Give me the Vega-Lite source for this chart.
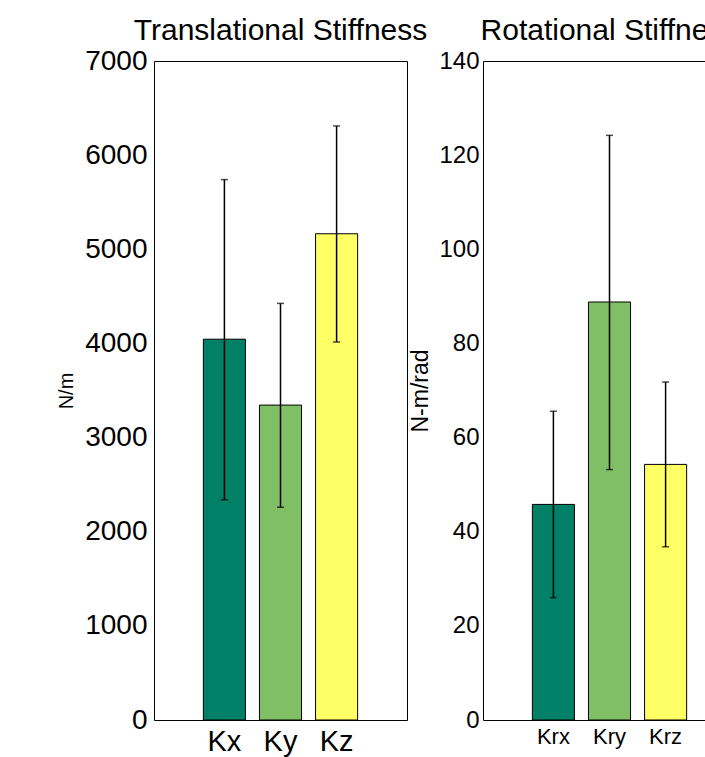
{
  "$schema": "https://vega.github.io/schema/vega-lite/v6.json",
  "background": "white",
  "padding": {"left": 56, "top": 15, "right": 0, "bottom": 0},
  "spacing": -19,
  "datasets": {
    "trans": [
      {"k": "Kx", "mean": 4045, "lo": 2340, "hi": 5740},
      {"k": "Ky", "mean": 3345, "lo": 2260, "hi": 4425},
      {"k": "Kz", "mean": 5165, "lo": 4015, "hi": 6310}
    ],
    "rot": [
      {"k": "Krx", "mean": 45.8, "lo": 26.0, "hi": 65.6},
      {"k": "Kry", "mean": 88.8, "lo": 53.2, "hi": 124.2},
      {"k": "Krz", "mean": 54.3, "lo": 36.8, "hi": 71.8}
    ]
  },
  "config": {
    "font": "Liberation Sans",
    "view": {"stroke": "black", "strokeWidth": 1},
    "axis": {"grid": false, "ticks": false, "domain": false, "labelColor": "black", "titleColor": "black", "labelFont": "Liberation Sans", "titleFont": "Liberation Sans", "titleFontWeight": "normal"},
    "title": {"font": "Liberation Sans", "fontWeight": "normal", "color": "black", "fontSize": 30}
  },
  "hconcat": [
    {
      "width": 253,
      "height": 659,
      "title": {"text": "Translational Stiffness", "offset": 1},
      "data": {"name": "trans"},
      "layer": [
        {
          "mark": {"type": "bar", "stroke": "black", "strokeWidth": 1, "opacity": 1},
          "encoding": {
            "x": {"field": "k", "type": "nominal", "sort": null, "scale": {"paddingInner": 0.25, "paddingOuter": 0.88}, "axis": {"title": null, "labelAngle": 0, "labelFontSize": 29, "labelPadding": 7}},
            "y": {"field": "mean", "type": "quantitative", "scale": {"domain": [0, 7000], "nice": false}, "axis": {"title": "N/m", "titleFontSize": 20, "titlePadding": 8, "labelFontSize": 28, "labelPadding": 7, "format": "d", "values": [0, 1000, 2000, 3000, 4000, 5000, 6000, 7000]}},
            "color": {"field": "k", "type": "nominal", "scale": {"domain": ["Kx", "Ky", "Kz"], "range": ["#008066", "#80bf66", "#ffff66"]}, "legend": null}
          }
        },
        {
          "mark": {"type": "rule", "color": "black", "strokeWidth": 1.5},
          "encoding": {
            "x": {"field": "k", "type": "nominal", "sort": null},
            "y": {"field": "lo", "type": "quantitative"},
            "y2": {"field": "hi"}
          }
        },
        {
          "mark": {"type": "tick", "color": "black", "thickness": 1.5, "size": 7},
          "encoding": {
            "x": {"field": "k", "type": "nominal", "sort": null},
            "y": {"field": "lo", "type": "quantitative"}
          }
        },
        {
          "mark": {"type": "tick", "color": "black", "thickness": 1.5, "size": 7},
          "encoding": {
            "x": {"field": "k", "type": "nominal", "sort": null},
            "y": {"field": "hi", "type": "quantitative"}
          }
        }
      ]
    },
    {
      "width": 253,
      "height": 659,
      "title": {"text": "Rotational Stiffness", "offset": 3},
      "data": {"name": "rot"},
      "layer": [
        {
          "mark": {"type": "bar", "stroke": "black", "strokeWidth": 1, "opacity": 1},
          "encoding": {
            "x": {"field": "k", "type": "nominal", "sort": null, "scale": {"paddingInner": 0.25, "paddingOuter": 0.88}, "axis": {"title": null, "labelAngle": 0, "labelFontSize": 22, "labelPadding": 6}},
            "y": {"field": "mean", "type": "quantitative", "scale": {"domain": [0, 140], "nice": false}, "axis": {"title": "N-m/rad", "titleFontSize": 23, "titlePadding": 6, "labelFontSize": 24, "labelPadding": 4, "format": "d", "values": [0, 20, 40, 60, 80, 100, 120, 140]}},
            "color": {"field": "k", "type": "nominal", "scale": {"domain": ["Krx", "Kry", "Krz"], "range": ["#008066", "#80bf66", "#ffff66"]}, "legend": null}
          }
        },
        {
          "mark": {"type": "rule", "color": "black", "strokeWidth": 1.5},
          "encoding": {
            "x": {"field": "k", "type": "nominal", "sort": null},
            "y": {"field": "lo", "type": "quantitative"},
            "y2": {"field": "hi"}
          }
        },
        {
          "mark": {"type": "tick", "color": "black", "thickness": 1.5, "size": 7},
          "encoding": {
            "x": {"field": "k", "type": "nominal", "sort": null},
            "y": {"field": "lo", "type": "quantitative"}
          }
        },
        {
          "mark": {"type": "tick", "color": "black", "thickness": 1.5, "size": 7},
          "encoding": {
            "x": {"field": "k", "type": "nominal", "sort": null},
            "y": {"field": "hi", "type": "quantitative"}
          }
        }
      ]
    }
  ],
  "resolve": {"scale": {"color": "independent"}}
}
